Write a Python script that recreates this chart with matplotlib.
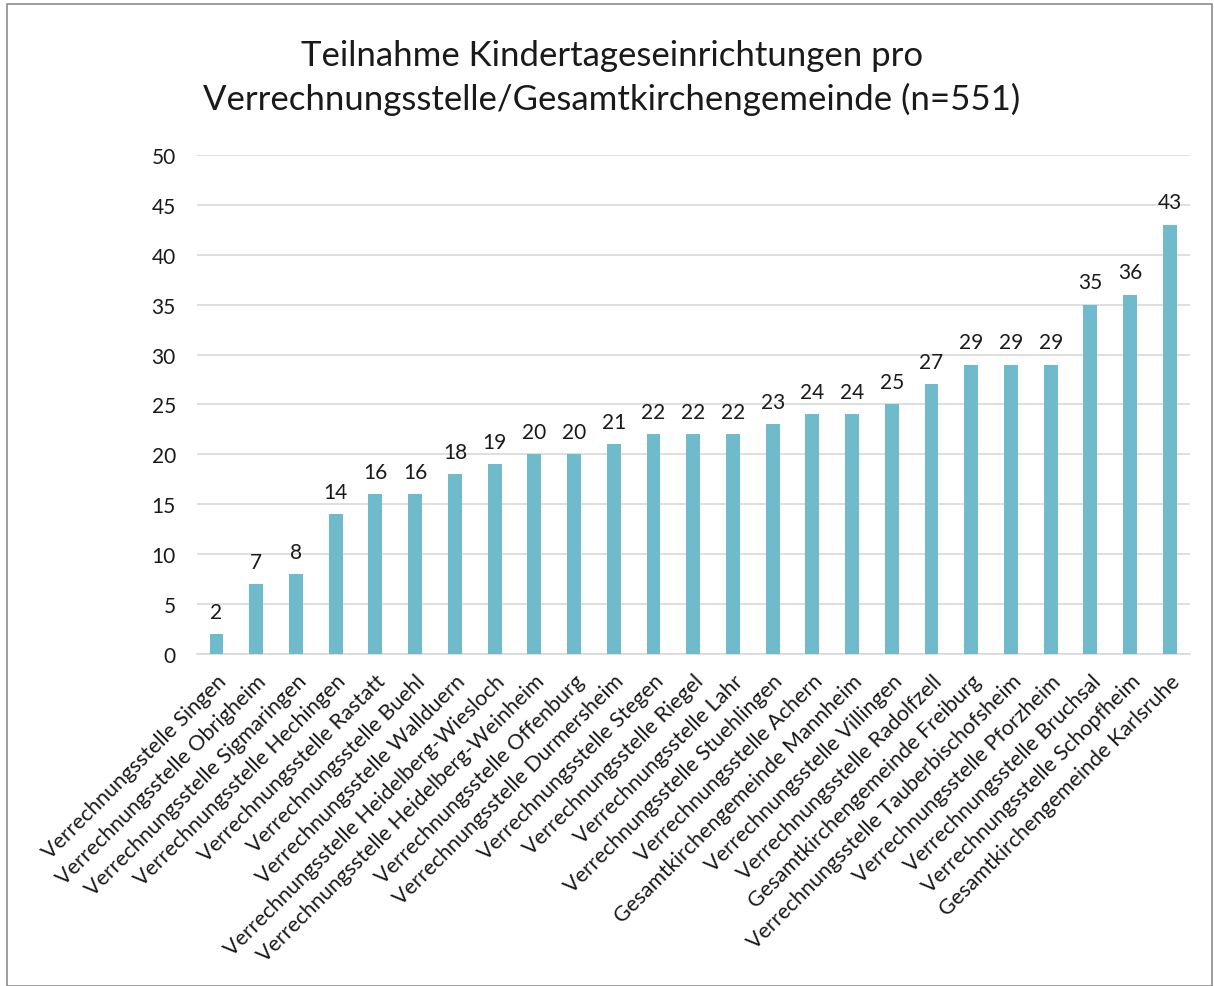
import matplotlib
matplotlib.use('Agg')
import matplotlib.pyplot as plt
from matplotlib.patches import Rectangle

plt.rcParams['font.family'] = ['Lato', 'DejaVu Sans']

title = 'Teilnahme Kindertageseinrichtungen pro\nVerrechnungsstelle/Gesamtkirchengemeinde (n=551)'
categories = ['Verrechnungsstelle Singen', 'Verrechnungsstelle Obrigheim',
              'Verrechnungsstelle Sigmaringen', 'Verrechnungsstelle Hechingen',
              'Verrechnungsstelle Rastatt', 'Verrechnungsstelle Buehl',
              'Verrechnungsstelle Wallduern', 'Verrechnungsstelle Heidelberg-Wiesloch',
              'Verrechnungsstelle Heidelberg-Weinheim', 'Verrechnungsstelle Offenburg',
              'Verrechnungsstelle Durmersheim', 'Verrechnungsstelle Stegen',
              'Verrechnungsstelle Riegel', 'Verrechnungsstelle Lahr',
              'Verrechnungsstelle Stuehlingen', 'Verrechnungsstelle Achern',
              'Gesamtkirchengemeinde Mannheim', 'Verrechnungsstelle Villingen',
              'Verrechnungsstelle Radolfzell', 'Gesamtkirchengemeinde Freiburg',
              'Verrechnungsstelle Tauberbischofsheim', 'Verrechnungsstelle Pforzheim',
              'Verrechnungsstelle Bruchsal', 'Verrechnungsstelle Schopfheim',
              'Gesamtkirchengemeinde Karlsruhe']
values = [2, 7, 8, 14, 16, 16, 18, 19, 20, 20, 21, 22, 22, 22, 23, 24, 24, 25,
          27, 29, 29, 29, 35, 36, 43]
yticks = [0, 5, 10, 15, 20, 25, 30, 35, 40, 45, 50]

bar_color = '#6FBBCC'
grid_color = '#D9D9D9'
txt_color = '#1a1a1a'

fig = plt.figure(figsize=(12.14, 9.87), dpi=100, facecolor='w')
fig.patches.append(Rectangle((0.006, 0.0), 0.992, 0.995, transform=fig.transFigure,
                             fill=False, edgecolor='#8C8C8C', linewidth=1.2))
axs = fig.add_axes([0.162, 0.3364, 0.818, 0.5056])

x = list(range(len(values)))
axs.bar(x, values, width=0.35, color=bar_color, zorder=3)
for xi, v in zip(x, values):
    axs.annotate(str(v), (xi, v), xytext=(0, 9), textcoords='offset points',
                 ha='center', va='bottom', fontsize=15, color=txt_color)

axs.set_xlim(-0.5, len(values) - 0.5)
axs.set_ylim(0, 50)
axs.set_yticks(yticks)
axs.set_yticklabels([str(t) for t in yticks], fontsize=15, color=txt_color)
axs.set_xticks(x)
axs.set_xticklabels(categories, rotation=45, ha='right', rotation_mode='anchor',
                    fontsize=15.5, color=txt_color)
axs.tick_params(axis='y', length=0, pad=15)
axs.tick_params(axis='x', length=0, pad=12)
axs.yaxis.grid(True, color=grid_color, linewidth=1.2, zorder=0)
for s in ['top', 'right', 'left']:
    axs.spines[s].set_visible(False)
axs.spines['bottom'].set_color(grid_color)
axs.spines['bottom'].set_linewidth(1.2)

fig.text(0.504, 0.921, title, ha='center', va='center', fontsize=25,
         color=txt_color, linespacing=1.4)

plt.savefig('out.png', dpi=100)
